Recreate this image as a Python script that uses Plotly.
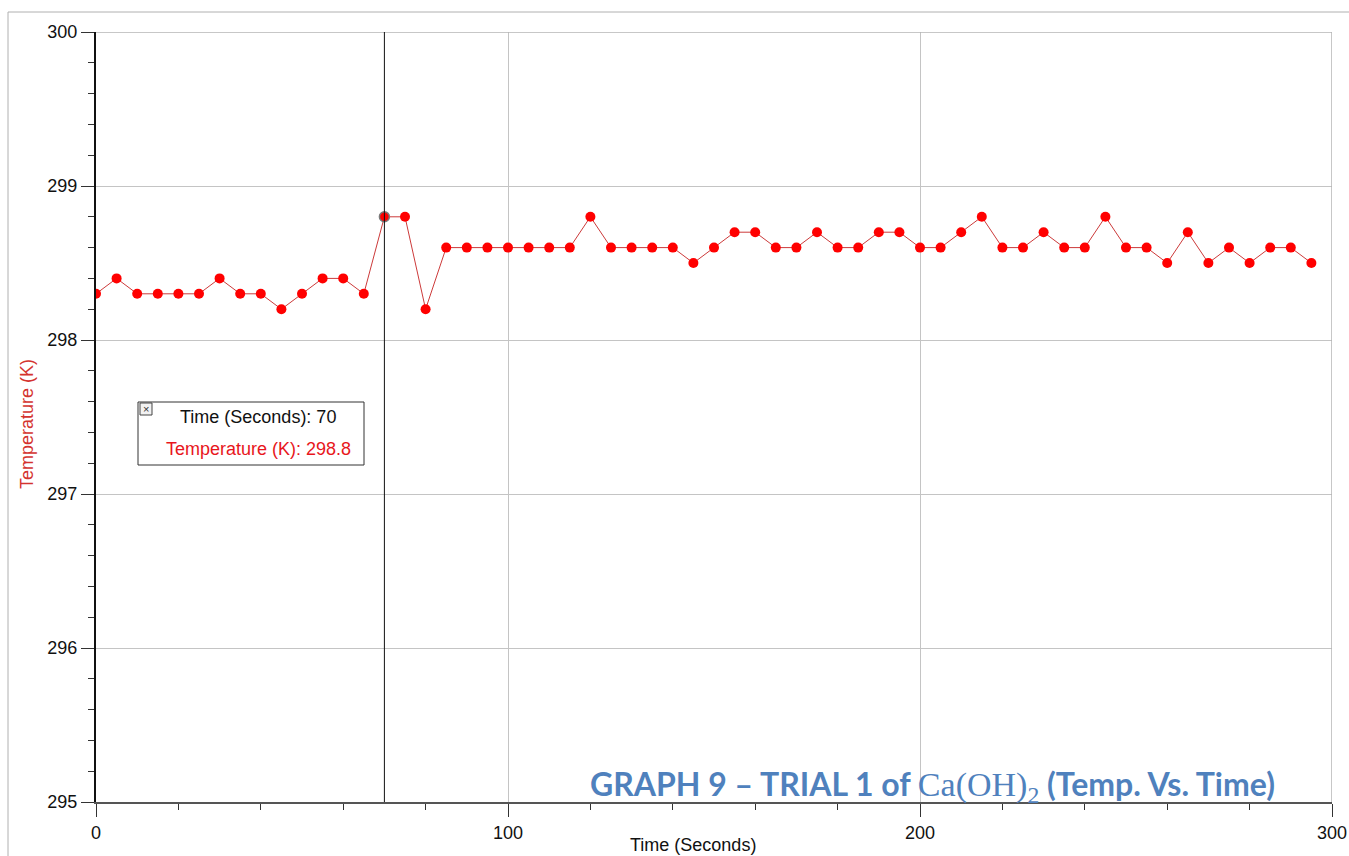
import plotly.graph_objects as go

# Temperature log, one reading every 5 s
time_s = [0, 5, 10, 15, 20, 25, 30, 35, 40, 45, 50, 55, 60, 65, 70, 75, 80, 85, 90, 95,
          100, 105, 110, 115, 120, 125, 130, 135, 140, 145, 150, 155, 160, 165, 170, 175,
          180, 185, 190, 195, 200, 205, 210, 215, 220, 225, 230, 235, 240, 245, 250, 255,
          260, 265, 270, 275, 280, 285, 290, 295]
temp_k = [298.3, 298.4, 298.3, 298.3, 298.3, 298.3, 298.4, 298.3, 298.3, 298.2,
          298.3, 298.4, 298.4, 298.3, 298.8, 298.8, 298.2, 298.6, 298.6, 298.6,
          298.6, 298.6, 298.6, 298.6, 298.8, 298.6, 298.6, 298.6, 298.6, 298.5,
          298.6, 298.7, 298.7, 298.6, 298.6, 298.7, 298.6, 298.6, 298.7, 298.7,
          298.6, 298.6, 298.7, 298.8, 298.6, 298.6, 298.7, 298.6, 298.6, 298.8,
          298.6, 298.6, 298.5, 298.7, 298.5, 298.6, 298.5, 298.6, 298.6, 298.5]

x_ticks = [0, 100, 200, 300]
y_ticks = [295, 296, 297, 298, 299, 300]
cursor_idx = 14  # examined reading

W, H = 1349, 856
ML, MR, MT, MB = 96, 17, 32, 54
PW, PH = W - ML - MR, H - MT - MB


def px(xp):
    return (xp - ML) / PW


def py(yp):
    return (H - MB - yp) / PH


ring = ["#ff0000"] * len(time_s)
ring[cursor_idx] = "#7a7a7a"
ring_w = [0] * len(time_s)
ring_w[cursor_idx] = 1.5

fig = go.Figure()
fig.add_trace(go.Scatter(
    x=time_s, y=temp_k, mode="lines+markers",
    line=dict(color="#cc3a3a", width=1),
    marker=dict(color="#ff0000", size=10, line=dict(color=ring, width=ring_w)),
    showlegend=False, hoverinfo="skip",
))

font_main = "Liberation Sans, Arial, sans-serif"

fig.update_layout(
    width=W, height=H,
    margin=dict(l=ML, r=MR, t=MT, b=MB, autoexpand=False),
    paper_bgcolor="white", plot_bgcolor="white",
    font=dict(family=font_main, size=18, color="#111"),
    xaxis=dict(
        range=[0, 300], tickvals=x_ticks, ticktext=[str(v) for v in x_ticks],
        showgrid=True, gridcolor="#c4c4c4", gridwidth=1, zeroline=False,
        showline=True, linecolor="#555", linewidth=2,
        ticks="outside", ticklen=13, tickcolor="#333", tickwidth=1,
        minor=dict(dtick=20, ticks="outside", ticklen=6, tickcolor="#333", showgrid=False),
        tickfont=dict(size=18, color="#111"),
    ),
    yaxis=dict(
        range=[295, 300], tickvals=y_ticks, ticktext=[str(v) for v in y_ticks],
        showgrid=True, gridcolor="#c4c4c4", gridwidth=1, zeroline=False,
        showline=True, linecolor="#111", linewidth=2,
        ticks="outside", ticklen=13, tickcolor="#333", tickwidth=1,
        minor=dict(dtick=0.2, ticks="outside", ticklen=6, tickcolor="#333", showgrid=False),
        tickfont=dict(size=18, color="#111"),
    ),
)

shapes = [
    # outer frame
    dict(type="line", xref="paper", yref="paper", x0=px(8), x1=px(W + 5), y0=py(12), y1=py(12),
         line=dict(color="#b0b0b0", width=1)),
    dict(type="line", xref="paper", yref="paper", x0=px(8), x1=px(8), y0=py(12), y1=py(H + 5),
         line=dict(color="#b0b0b0", width=1)),
    # plot border at the top/right ends of the axes
    dict(type="line", xref="x", yref="y", x0=0, x1=300, y0=300, y1=300,
         line=dict(color="#b4b4b4", width=1.5)),
    dict(type="line", xref="x", yref="y", x0=300, x1=300, y0=295, y1=300,
         line=dict(color="#b4b4b4", width=1.5)),
    # examine cursor
    dict(type="line", xref="x", yref="paper", x0=time_s[cursor_idx], x1=time_s[cursor_idx],
         y0=0, y1=1, line=dict(color="#111", width=1)),
    # readout box
    dict(type="rect", xref="paper", yref="paper", x0=px(138), x1=px(364), y0=py(402), y1=py(465),
         line=dict(color="#333", width=1), fillcolor="white"),
    dict(type="rect", xref="paper", yref="paper", x0=px(140), x1=px(152), y0=py(403), y1=py(415),
         line=dict(color="#444", width=1), fillcolor="#f2f2f2"),
]
fig.update_layout(shapes=shapes)

annotations = [
    dict(text="×", xref="paper", yref="paper", x=px(146), y=py(409), xanchor="center",
         yanchor="middle", showarrow=False, font=dict(size=11, color="#333")),
    dict(text=f"Time (Seconds): {time_s[cursor_idx]}", xref="paper", yref="paper",
         x=px(258), y=py(417), xanchor="center", yanchor="middle", showarrow=False,
         font=dict(size=18, color="#111", family=font_main)),
    dict(text=f"Temperature (K): {temp_k[cursor_idx]}", xref="paper", yref="paper",
         x=px(258), y=py(449), xanchor="center", yanchor="middle", showarrow=False,
         font=dict(size=18, color="#e8161c", family=font_main)),
    dict(text="Temperature (K)", xref="paper", yref="paper", x=px(27), y=py(424),
         xanchor="center", yanchor="middle", textangle=-90, showarrow=False,
         font=dict(size=18, color="#d4332f", family=font_main)),
    dict(text="Time (Seconds)", xref="paper", yref="paper", x=px(693), y=py(845),
         xanchor="center", yanchor="middle", showarrow=False,
         font=dict(size=18, color="#111", family=font_main)),
    dict(text="GRAPH 9 – TRIAL 1 of <span style='font-family:Liberation Serif, serif;"
              "font-weight:normal;font-size:34px'>Ca(OH)<sub>2</sub></span> (Temp. Vs. Time)",
         xref="paper", yref="paper", x=px(1277), y=py(786), xanchor="right",
         yanchor="middle", showarrow=False,
         font=dict(size=32, color="#4f81bd", family="Lato, Open Sans, sans-serif", weight=700)),
]
fig.update_layout(annotations=annotations)

fig.write_html("out.html")
